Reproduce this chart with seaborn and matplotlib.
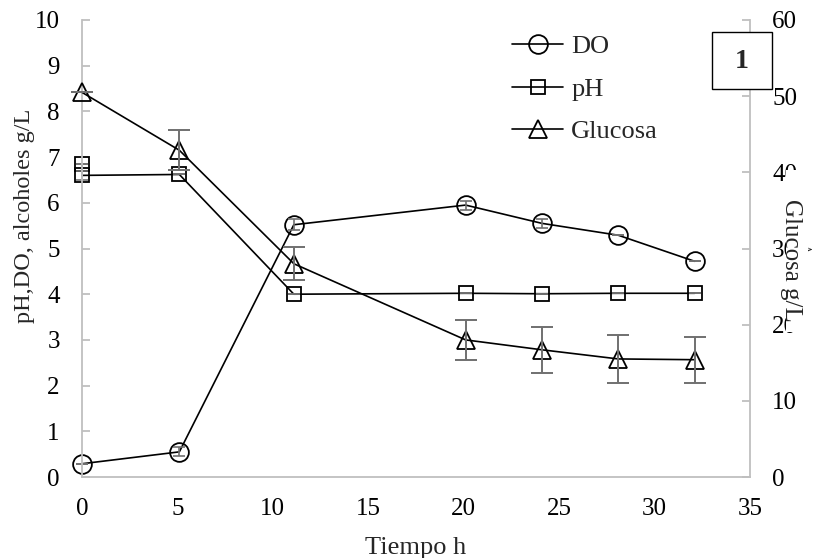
import matplotlib
matplotlib.use("Agg")
import matplotlib.pyplot as plt
from matplotlib.patches import Rectangle
import seaborn as sns
import pandas as pd

sns.set_style("white")
plt.rcParams["font.family"] = ["Liberation Serif", "DejaVu Serif"]

# Sampling times (h)
tiempo = [0, 5.1, 11.1, 20.1, 24.1, 28.1, 32.1]

# Optical density
do_val = [0.29, 0.55, 5.52, 5.95, 5.55, 5.29, 4.72]
do_err = [0.0, 0.10, 0.12, 0.10, 0.10, 0.0, 0.0]

# pH (two readings at t = 0)
ph_t = [0, 0, 5.1, 11.1, 20.1, 24.1, 28.1, 32.1]
ph_val = [6.85, 6.60, 6.62, 4.00, 4.02, 4.01, 4.02, 4.02]
ph_err = [0.0, 0.10, 0.0, 0.0, 0.0, 0.0, 0.0, 0.0]

# Glucose (g/L, right axis)
glu_val = [50.5, 42.9, 28.0, 18.0, 16.7, 15.5, 15.4]
glu_err = [0.0, 2.6, 2.2, 2.6, 3.0, 3.2, 3.0]

x_ticks = [0, 5, 10, 15, 20, 25, 30, 35]
y_ticks = list(range(0, 11))
y2_ticks = [0, 10, 20, 30, 40, 50, 60]

df_do = pd.DataFrame({"t": tiempo, "v": do_val})
df_ph = pd.DataFrame({"t": ph_t, "v": ph_val})
df_glu = pd.DataFrame({"t": tiempo, "v": glu_val})

fig = plt.figure(figsize=(8.14, 5.58), dpi=100)
ax = fig.add_axes([82 / 814, 1 - 477 / 558, 668 / 814, 457 / 558])
ax2 = ax.twinx()

grey = "#bfbfbf"
ebar = "#707070"
line_kw = dict(color="black", linewidth=1.2, markerfacecolor="none",
               markeredgecolor="black", markeredgewidth=1.3, clip_on=False)

sns.lineplot(data=df_do, x="t", y="v", ax=ax, marker="o", markersize=13.5,
             sort=False, estimator=None, label="DO", legend=False, **line_kw)
sns.lineplot(data=df_ph, x="t", y="v", ax=ax, marker="s", markersize=10,
             sort=False, estimator=None, label="pH", legend=False, **line_kw)
ax.errorbar(tiempo, do_val, yerr=do_err, fmt="none", ecolor=ebar,
            elinewidth=1.2, capsize=4, capthick=1.2, clip_on=False)
ax.errorbar(ph_t, ph_val, yerr=ph_err, fmt="none", ecolor=ebar,
            elinewidth=1.2, capsize=4, capthick=1.2, clip_on=False)

sns.lineplot(data=df_glu, x="t", y="v", ax=ax2, marker="^", markersize=13,
             sort=False, estimator=None, label="Glucosa", legend=False, **line_kw)
ax2.errorbar(tiempo, glu_val, yerr=glu_err, fmt="none", ecolor=ebar,
             elinewidth=1.4, capsize=8, capthick=1.4, clip_on=False)

ax.set_xlim(0, 35)
ax.set_ylim(0, 10)
ax2.set_ylim(0, 60)
ax.set_xticks(x_ticks)
ax.set_yticks(y_ticks)
ax2.set_yticks(y2_ticks)

for a in (ax, ax2):
    for s in a.spines.values():
        s.set_color(grey)
        s.set_linewidth(1.3)
    a.spines["top"].set_visible(False)
ax.spines["right"].set_visible(False)
ax2.spines["left"].set_visible(False)
ax2.spines["bottom"].set_visible(False)

ax.tick_params(axis="both", direction="in", length=6, width=1.3, color=grey,
               labelsize=18, labelcolor="black")
ax.tick_params(axis="y", pad=16)
ax.tick_params(axis="x", pad=15)
ax2.tick_params(axis="y", direction="in", length=6, width=1.3, color=grey,
                labelsize=18, labelcolor="black", pad=16)

ax.set_xlabel("Tiempo h", fontsize=19)
ax.xaxis.set_label_coords(0.5, -0.155)
ax.xaxis.label.set_va("center")
ax.set_ylabel("pH,DO, alcoholes g/L", fontsize=17.5, va="center")
ax.yaxis.set_label_coords((25 - 82) / 668, (477 - 216) / 457)

# Right-axis title sits on a white panel that overlaps the tick labels
fig.patches.append(Rectangle((786 / 814, 1 - 332 / 558), 22 / 814, 162 / 558,
                             transform=fig.transFigure, facecolor="white",
                             edgecolor="none", zorder=6))
fig.text(791 / 814, 1 - 260 / 558, "Glucosa g/L", fontsize=18, rotation=270,
         ha="center", va="center", zorder=7)

h_do = [l for l in ax.get_lines() if l.get_label() == "DO"][0]
h_ph = [l for l in ax.get_lines() if l.get_label() == "pH"][0]
h_glu = [l for l in ax2.get_lines() if l.get_label() == "Glucosa"][0]
ax2.legend([h_do, h_ph, h_glu], ["DO", "pH", "Glucosa"], loc="upper left",
           bbox_to_anchor=((512 - 82) / 668, (477 - 35) / 457), frameon=False,
           fontsize=19, handlelength=1.95, handletextpad=0.3, labelspacing=0.72,
           borderaxespad=0, borderpad=0)

# Panel number box
fig.patches.append(Rectangle((712 / 814, 1 - 89 / 558), 60 / 814, 57 / 558,
                             transform=fig.transFigure, facecolor="white",
                             edgecolor="black", linewidth=1.0, zorder=5))
fig.text(742 / 814, 1 - 62 / 558, "1", fontsize=20, fontweight="bold",
         ha="center", va="center", zorder=6)

fig.savefig("out.png", dpi=100)
